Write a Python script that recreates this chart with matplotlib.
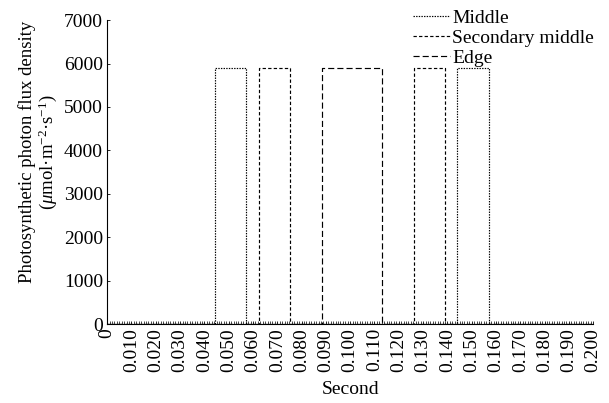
import matplotlib
matplotlib.use('Agg')
import matplotlib.pyplot as plt
import numpy as np
from matplotlib.ticker import MultipleLocator, FuncFormatter

# Pulse on/off times (s) and peak PPFD for each region
middle_on = [0.0444, 0.1440]
middle_off = [0.0571, 0.1570]
secondary_on = [0.0623, 0.1262]
secondary_off = [0.0752, 0.1391]
edge_on = [0.0883]
edge_off = [0.1131]
peak_ppfd = 5900
t_start = 0.0
t_end = 0.200

series_names = ['Middle', 'Secondary middle', 'Edge']

plt.rcParams['font.family'] = ['Liberation Serif', 'DejaVu Serif']
plt.rcParams['mathtext.fontset'] = 'custom'
plt.rcParams['mathtext.rm'] = 'Liberation Serif'
plt.rcParams['mathtext.it'] = 'Liberation Serif:italic'
plt.rcParams['lines.scale_dashes'] = False


def pulse_trace(ons, offs):
    # build a rectangular pulse signal from on/off times
    t = [t_start]
    y = [0]
    for a, b in zip(ons, offs):
        t.extend([a, a, b, b])
        y.extend([0, peak_ppfd, peak_ppfd, 0])
    t.append(t_end)
    y.append(0)
    return t, y


fig = plt.figure(figsize=(6.09, 4.03), dpi=100)
ax = fig.add_axes([0.176, 0.196, 0.798, 0.754])

styles = [(1.0, 0.9), (2.4, 1.6), (4.4, 2.2)]
pulses = [(middle_on, middle_off), (secondary_on, secondary_off), (edge_on, edge_off)]
handles = []
for name, (ons, offs), dash in zip(series_names, pulses, styles):
    t, y = pulse_trace(ons, offs)
    line, = ax.plot(t, y, color='black', lw=0.85, dashes=dash, label=name)
    handles.append(line)

ax.set_xlim(t_start, t_end)
ax.set_ylim(0, 7000)
ax.xaxis.set_major_locator(MultipleLocator(0.01))
ax.xaxis.set_minor_locator(MultipleLocator(0.001))
ax.yaxis.set_major_locator(MultipleLocator(1000))
ax.xaxis.set_major_formatter(FuncFormatter(lambda v, p: '0' if abs(v) < 1e-9 else f'{v:.3f}'))
ax.tick_params(axis='x', which='major', direction='in', length=2.5, width=0.6, labelsize=14, rotation=90, pad=3)
ax.tick_params(axis='x', which='minor', direction='in', length=2.0, width=0.5)
ax.tick_params(axis='y', direction='in', length=2.5, width=0.6, labelsize=14, pad=3)
for s in ['top', 'right']:
    ax.spines[s].set_visible(False)
for s in ['left', 'bottom']:
    ax.spines[s].set_linewidth(0.8)

ax.set_xlabel('Second', fontsize=14, labelpad=6)
ax.set_ylabel('Photosynthetic photon flux density\n($\\mu$mol·m$^{-2}$·s$^{-1}$)', fontsize=13.5, linespacing=1.0)
ax.yaxis.set_label_coords(-0.1, 0.566)

fig.legend(handles=handles, loc='upper left', bbox_to_anchor=(0.656, 1.01), frameon=False,
           fontsize=14, handlelength=1.9, handletextpad=0.12, labelspacing=0.12, borderpad=0.2)

fig.savefig('out.png', dpi=100)
